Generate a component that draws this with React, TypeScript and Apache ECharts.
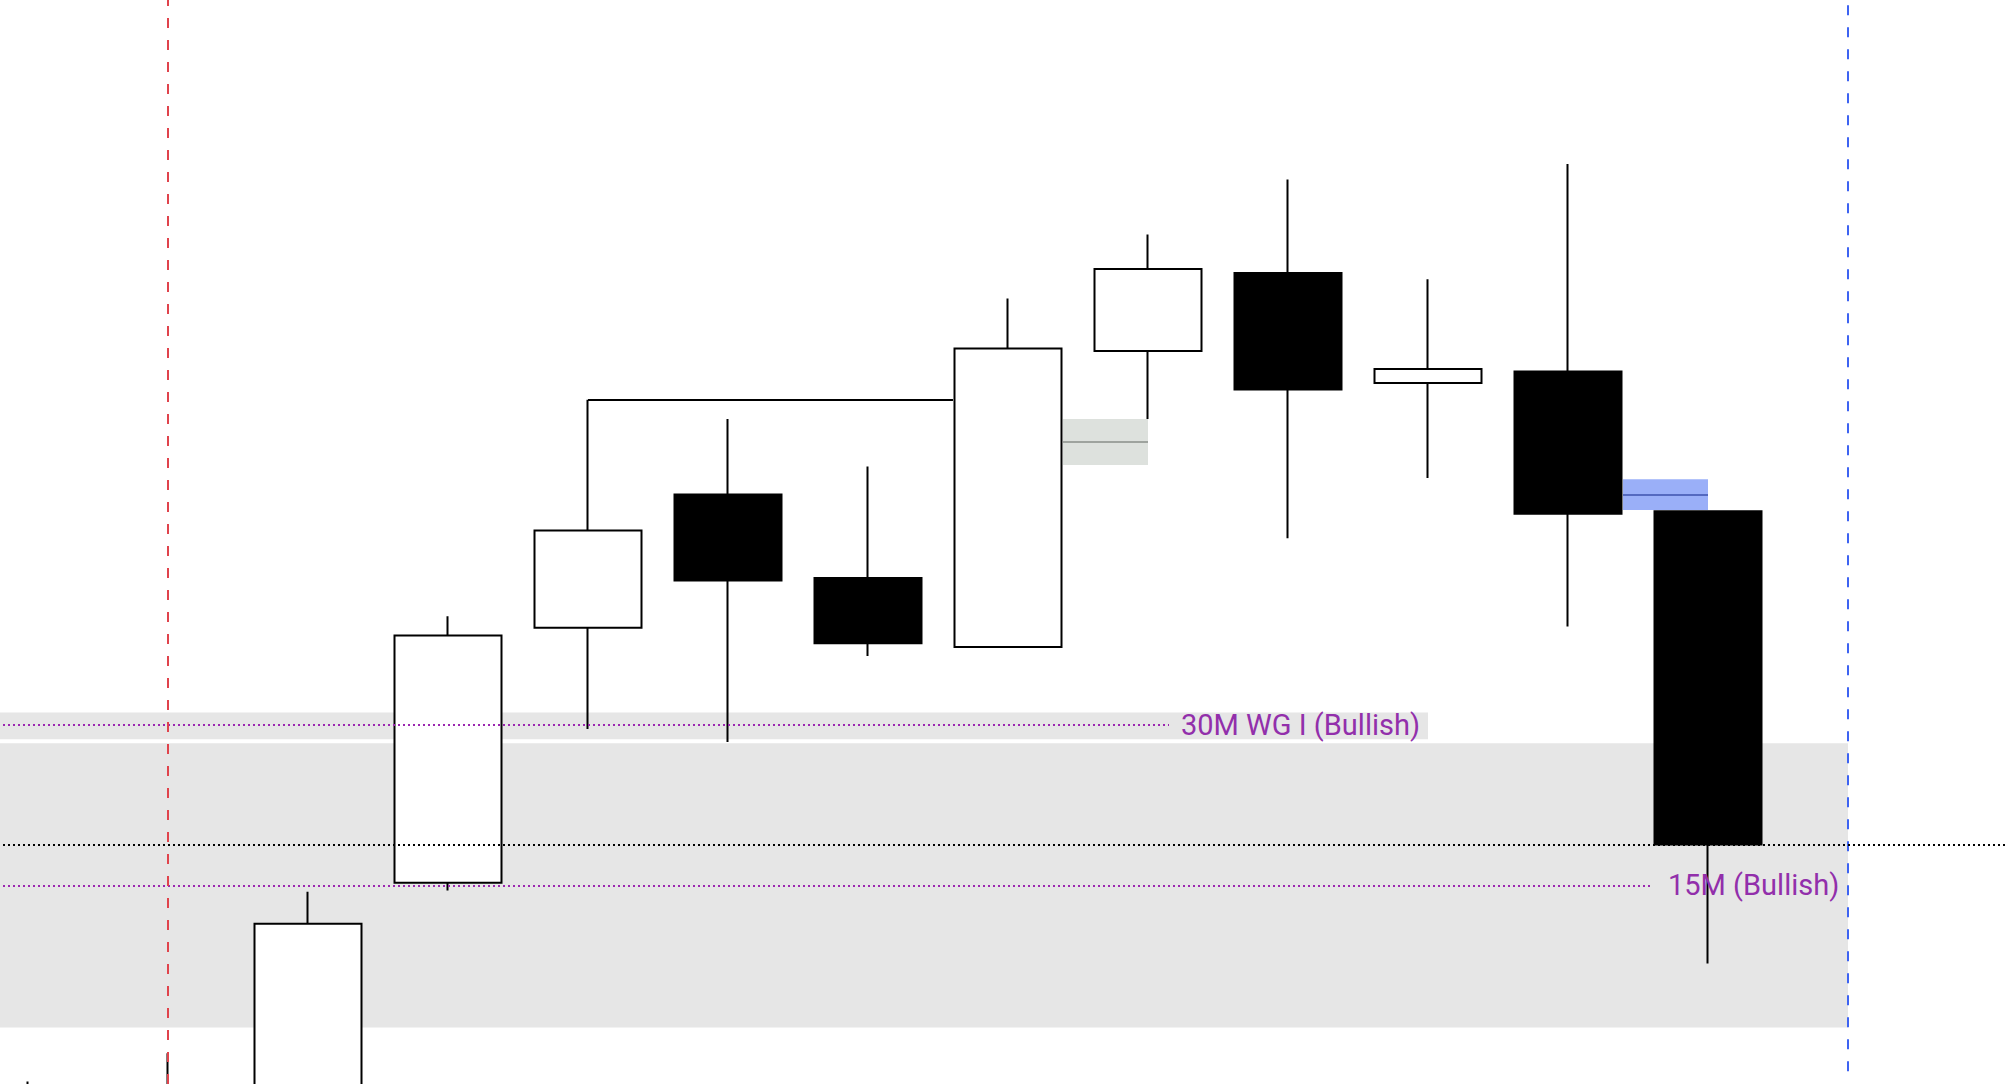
import React, { useEffect, useRef } from "react";
import * as echarts from "echarts";

// Bar slots (category axis); slot 0 = red session line, slot 12 = blue session line
const categories: string[] = ["-2", "-1", "0", "1", "2", "3", "4", "5", "6", "7", "8", "9", "10", "11", "12", "13"];

// Candles (price in chart points)
const candleSlots = [-1, 0, 1, 2, 3, 4, 5, 6, 7, 8, 9, 10, 11];
const opens = [-40, -20, -30, 157, 356, 460, 395, 341, 572, 633, 547, 556, 447];
const closes = [-80, -70, 125, 350, 432, 393, 344, 574, 636, 542, 558, 445, 187];
const lows = [-100, -90, -50, 151, 277, 267, 334, 341, 519, 426, 473, 357, 94];
const highs = [2, 24, 150, 365, 534, 519, 482, 613, 663, 706, 628, 718, 447];

// Zones: [xStart, xEnd, yLow, yHigh]
const demandZone = [-2.5, 12, 44, 266];
const wgBand = [-2.5, 9, 269, 290];
const gapBoxGray = [6.393, 7, 483, 519];
const gapBoxBlue = [10.393, 11, 448, 472];
const gapMidGray = 501;
const gapMidBlue = 460;

// Levels
const level30 = 280;
const level30End = 7.15;
const level30Label = "30M WG I (Bullish)";
const level15 = 155;
const level15End = 10.6;
const level15Label = "15M (Bullish)";
const lastPrice = 187;
const swingHigh = 534;
const swingFrom = 3;
const swingTo = 5.607;
const sessionStart = 0;
const sessionEnd = 12;

const PURPLE = "#9c27b0";
const LABEL_PURPLE = "#922fab";

export default function App() {
  const ref = useRef<HTMLDivElement>(null);
  useEffect(() => {
    if (!ref.current) return;
    const chart = echarts.init(ref.current, undefined, { renderer: "svg" });
    const candleData = categories.map((c) => {
      const i = candleSlots.indexOf(Number(c));
      return i < 0 ? "-" : [opens[i], closes[i], lows[i], highs[i]];
    });
    const box = (b: number[], color: string) => [
      { xAxis: b[0], yAxis: b[2], itemStyle: { color, opacity: 1, borderWidth: 0 } },
      { xAxis: b[1], yAxis: b[3] },
    ];
    const dotted = (w: number, color: string) => ({ color, width: w, type: [2, 3] as any, opacity: 1 });
    const labelStyle = {
      show: true,
      position: "end",
      color: LABEL_PURPLE,
      fontSize: 29,
      fontFamily: "Roboto",
    };

    chart.setOption({
      animation: false,
      grid: { left: 0, right: 0, top: 0, bottom: 0, containLabel: false },
      xAxis: [
        { type: "category", data: categories, show: false, boundaryGap: true },
        { type: "value", min: -2.5, max: 13.5, show: false },
      ],
      yAxis: { type: "value", min: 0, max: 846, show: false, splitLine: { show: false } },
      series: [
        {
          type: "line",
          xAxisIndex: 1,
          data: [],
          z: 1,
          silent: true,
          markArea: {
            silent: true,
            label: { show: false },
            data: [
              box(demandZone, "#e6e6e6"),
              box(wgBand, "#e6e6e6"),
              box(gapBoxGray, "#dde1dd"),
              box(gapBoxBlue, "#9aaff8"),
            ],
          },
          markLine: {
            silent: true,
            symbol: ["none", "none"],
            data: [
              [
                { coord: [-2.5, level30], lineStyle: dotted(2, PURPLE) },
                { coord: [level30End, level30], label: { ...labelStyle, distance: 12, formatter: level30Label } },
              ],
              [
                { coord: [-2.5, level15], lineStyle: dotted(2, PURPLE) },
                { coord: [level15End, level15], label: { ...labelStyle, distance: 16, formatter: level15Label } },
              ],
              [
                { coord: [gapBoxGray[0], gapMidGray], lineStyle: { color: "#9ea39e", width: 2, type: "solid" }, label: { show: false } },
                { coord: [gapBoxGray[1], gapMidGray] },
              ],
              [
                { coord: [gapBoxBlue[0], gapMidBlue], lineStyle: { color: "#5469c0", width: 2, type: "solid" }, label: { show: false } },
                { coord: [gapBoxBlue[1], gapMidBlue] },
              ],
              [
                { coord: [sessionStart, 0], lineStyle: { color: "#e0434c", width: 2, type: [10, 12] as any }, label: { show: false } },
                { coord: [sessionStart, 846] },
              ],
              [
                { coord: [sessionEnd, 10], lineStyle: { color: "#3d63f2", width: 2, type: [10, 12] as any }, label: { show: false } },
                { coord: [sessionEnd, 846] },
              ],
            ],
          },
        },
        {
          type: "candlestick",
          xAxisIndex: 0,
          z: 2,
          barWidth: 108,
          data: candleData,
          itemStyle: {
            color: "#ffffff",
            color0: "#000000",
            borderColor: "#000000",
            borderColor0: "#000000",
            borderWidth: 2,
          },
        },
        {
          type: "line",
          xAxisIndex: 1,
          data: [],
          z: 3,
          silent: true,
          markLine: {
            silent: true,
            symbol: ["none", "none"],
            label: { show: false },
            data: [
              { yAxis: lastPrice, lineStyle: dotted(2, "#000000") },
              [
                { coord: [swingFrom, swingHigh], lineStyle: { color: "#000000", width: 2, type: "solid" } },
                { coord: [swingTo, swingHigh] },
              ],
            ],
          },
        },
      ],
    });
    return () => chart.dispose();
  }, []);
  return (
    <div
      style={{
        position: "fixed",
        left: 0,
        top: 0,
        width: 2008,
        height: 1084,
        overflow: "hidden",
        background: "#ffffff",
      }}
    >
      <div ref={ref} style={{ position: "absolute", left: -182, top: 0, width: 2240, height: 1084 }} />
    </div>
  );
}
